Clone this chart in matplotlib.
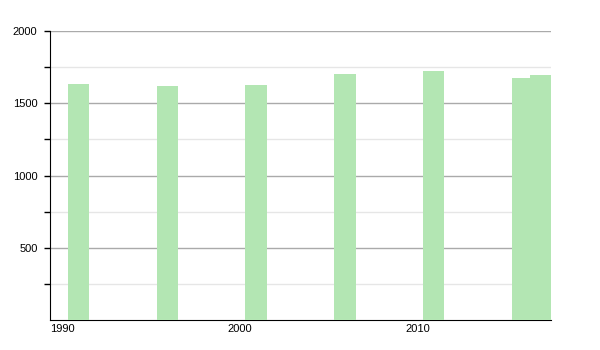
import numpy as np
import matplotlib
matplotlib.use('Agg')
import matplotlib.pyplot as plt

years = [1991, 1996, 2001, 2006, 2011, 2016, 2017]
population = [1633, 1619, 1626, 1702, 1723, 1675, 1695]
xticks = [1990, 2000, 2010]
yticks = [500, 1000, 1500, 2000]

plt.rcParams['font.family'] = ['Liberation Sans', 'DejaVu Sans']

fig = plt.figure(figsize=(6, 3.5), dpi=100)
ax = fig.add_axes([0.0833, 0.0857, 0.835, 0.8257])

ax.bar(years, population, width=1.2, align='edge', color='#b3e6b3', zorder=3)

ax.set_xlim(1990.05, 2018.2)
ax.set_ylim(0, 2000)

ax.set_yticks(yticks)
ax.set_yticks([250, 750, 1250, 1750], minor=True)
ax.grid(axis='y', which='major', color='#aaaaaa', linewidth=1, zorder=0)
ax.grid(axis='y', which='minor', color='#e6e6e6', linewidth=1, zorder=0)
ax.tick_params(axis='y', which='both', direction='out', length=4, width=1,
               labelsize=8, pad=5)

ax.set_xticks(xticks)
ax.set_xticklabels([str(t) for t in xticks], ha='left')
ax.tick_params(axis='x', length=0, labelsize=8, pad=3)
for lbl in ax.get_xticklabels():
    lbl.set_x(lbl.get_position()[0])

for s in ['top', 'right']:
    ax.spines[s].set_visible(False)
ax.spines['left'].set_color('black')
ax.spines['bottom'].set_color('black')

plt.savefig('out.png', dpi=100)
